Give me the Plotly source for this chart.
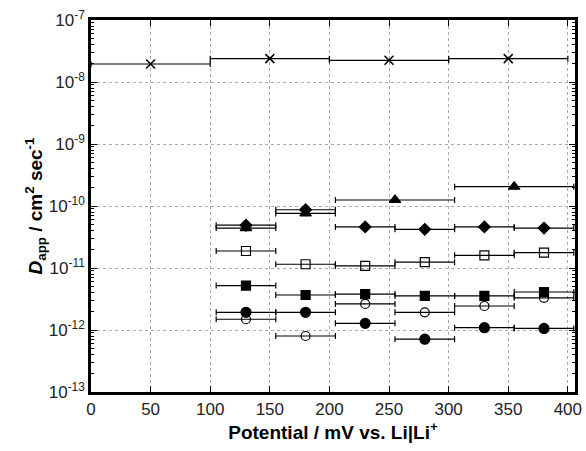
import plotly.graph_objects as go

# ---- data ----
x_cross = [50, 150, 250, 350]
y_cross = [1.95e-8, 2.38e-8, 2.24e-8, 2.38e-8]
err_cross = [50, 50, 50, 50]

x_tri = [130, 180, 255, 355]
y_tri = [4.4e-11, 7.6e-11, 1.25e-10, 2.05e-10]
err_tri = [25, 25, 50, 50]

x_std = [130, 180, 230, 280, 330, 380]
err_std = [25, 25, 25, 25, 25, 25]
y_diamond = [4.9e-11, 8.7e-11, 4.6e-11, 4.2e-11, 4.6e-11, 4.4e-11]
y_sq_open = [1.88e-11, 1.15e-11, 1.08e-11, 1.24e-11, 1.6e-11, 1.77e-11]
y_sq_fill = [5.2e-12, 3.67e-12, 3.8e-12, 3.55e-12, 3.55e-12, 4.1e-12]
y_circ_open = [1.49e-12, 8.0e-13, 2.63e-12, 1.93e-12, 2.44e-12, 3.3e-12]
y_circ_fill = [1.93e-12, 1.93e-12, 1.28e-12, 7.1e-13, 1.09e-12, 1.06e-12]

x_ticks = [0, 50, 100, 150, 200, 250, 300, 350, 400]
y_exps = [-13, -12, -11, -10, -9, -8, -7]

FONT = "Liberation Sans, Arial, Helvetica, sans-serif"

fig = go.Figure()

def add(x, y, err, symbol, size, lw=1.2):
    fig.add_trace(go.Scatter(
        x=x, y=y, mode="markers",
        marker=dict(symbol=symbol, size=size, color="black",
                    line=dict(color="black", width=lw)),
        error_x=dict(type="data", array=err, symmetric=True,
                     color="black", thickness=1.2, width=3),
        showlegend=False,
    ))

add(x_cross, y_cross, err_cross, "x-thin-open", 9, 1.5)
add(x_tri, y_tri, err_tri, "triangle-up", 10)
add(x_std, y_diamond, err_std, "diamond", 9)
add(x_std, y_sq_open, err_std, "square-open", 9)
add(x_std, y_sq_fill, err_std, "square", 9)
add(x_std, y_circ_open, err_std, "circle-open", 9)
add(x_std, y_circ_fill, err_std, "circle", 10)

fig.update_layout(
    template="none",
    width=586, height=451,
    margin=dict(l=91, r=11, t=20, b=59),
    paper_bgcolor="white", plot_bgcolor="white",
    font=dict(family=FONT, size=16, color="#222"),
)

fig.update_xaxes(
    range=[0, 406], tickvals=x_ticks, ticktext=[str(v) for v in x_ticks],
    showline=True, linecolor="black", linewidth=2.5, mirror="allticks",
    ticks="inside", ticklen=6, tickcolor="black", tickwidth=1,
    showgrid=True, gridcolor="#aaaaaa", griddash="dot", gridwidth=1,
    zeroline=False, automargin=False,
    tickfont=dict(size=17, family=FONT, color="#222"),
    title=dict(text="<b>Potential / mV vs. Li|Li<sup>+</sup></b>",
               font=dict(size=19, family=FONT, color="black"), standoff=2),
)

fig.update_yaxes(
    type="log", range=[-13, -7],
    tickvals=[10.0 ** e for e in y_exps],
    ticktext=["10<sup>%d</sup>" % e for e in y_exps],
    showline=True, linecolor="black", linewidth=2.5, mirror="allticks",
    ticks="inside", ticklen=6, tickcolor="black", tickwidth=1,
    minor=dict(ticks="inside", ticklen=3, tickcolor="black", dtick="D1", showgrid=False),
    showgrid=True, gridcolor="#aaaaaa", griddash="dot", gridwidth=1,
    zeroline=False, automargin=False,
    tickfont=dict(size=17, family=FONT, color="#222"),
    title=dict(text="<b><i>D</i><sub>app</sub> / cm<sup>2</sup> sec<sup>-1</sup></b>",
               font=dict(size=19, family=FONT, color="black"), standoff=2),
)

fig.write_html("out.html",
               config={"displayModeBar": False},
               post_script="document.body.style.margin='0';document.body.style.overflow='hidden';")
